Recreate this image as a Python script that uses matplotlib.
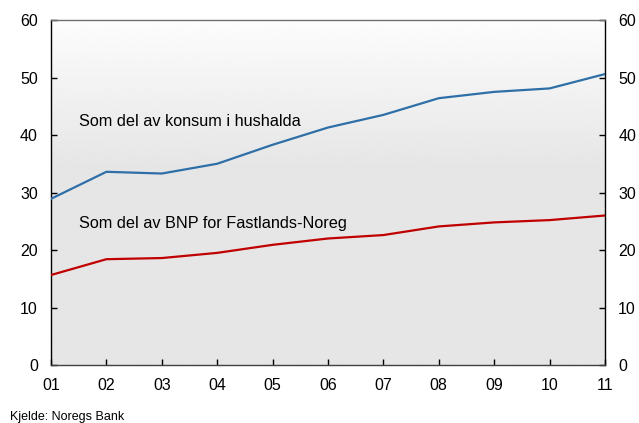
import numpy as np
import matplotlib
matplotlib.use("Agg")
import matplotlib.pyplot as plt

plt.rcParams["font.family"] = ["Liberation Sans", "DejaVu Sans"]

YEARS = [2001, 2002, 2003, 2004, 2005, 2006, 2007, 2008, 2009, 2010, 2011]
YEAR_LABELS = ["01", "02", "03", "04", "05", "06", "07", "08", "09", "10", "11"]
HOUSEHOLD = [28.9, 33.6, 33.3, 35.0, 38.3, 41.3, 43.5, 46.4, 47.5, 48.1, 50.6]
MAINLAND_GDP = [15.65, 18.4, 18.6, 19.5, 20.9, 22.0, 22.6, 24.1, 24.8, 25.2, 26.0]
Y_TICKS = [0, 10, 20, 30, 40, 50, 60]

BLUE = "#2e6fa8"
RED = "#c00000"


def draw_background(ax):
    # vertical gradient: near white at the top, flat light gray from ~40% down
    n = 256
    t = np.linspace(0, 1, n)
    shade = np.where(t < 0.42, 0.99 - (0.99 - 0.902) * (t / 0.42), 0.902)
    img = np.repeat(shade[:, None], 2, axis=1)
    ax.imshow(img, cmap="gray", vmin=0, vmax=1, aspect="auto",
              extent=(0, 1, 0, 1), transform=ax.transAxes, zorder=0,
              interpolation="bilinear")


def main():
    fig = plt.figure(figsize=(6.39, 4.23), dpi=100)
    ax = fig.add_axes([51 / 639, 1 - 365 / 423, 554 / 639, 345 / 423])
    draw_background(ax)

    ax.plot(YEARS, HOUSEHOLD, color=BLUE, linewidth=1.6, zorder=3)
    ax.plot(YEARS, MAINLAND_GDP, color=RED, linewidth=1.6, zorder=3)

    ax.set_xlim(2001, 2011)
    ax.set_ylim(0, 60)
    ax.set_xticks(YEARS)
    ax.set_xticklabels(YEAR_LABELS)
    ax.set_yticks(Y_TICKS)
    ax.tick_params(axis="both", direction="in", length=4, width=1,
                   labelsize=11.5, colors="#000000", pad=9.5)
    ax.tick_params(axis="y", right=True, labelright=True)

    ax.spines["top"].set_color("#707070")
    ax.spines["bottom"].set_color("#404040")
    ax.spines["left"].set_color("#000000")
    ax.spines["right"].set_color("#000000")
    for side in ax.spines.values():
        side.set_linewidth(1.0)

    ax.text(2001.5, 42.3, "Som del av konsum i hushalda", fontsize=11.7,
            va="center", ha="left", zorder=4)
    ax.text(2001.5, 24.6, "Som del av BNP for Fastlands-Noreg", fontsize=11.7,
            va="center", ha="left", zorder=4)

    fig.text(10 / 639, 1 - 417 / 423, "Kjelde: Noregs Bank", fontsize=9,
             va="center", ha="left")

    fig.savefig("out.png", dpi=100)
    plt.close(fig)


if __name__ == "__main__":
    main()
